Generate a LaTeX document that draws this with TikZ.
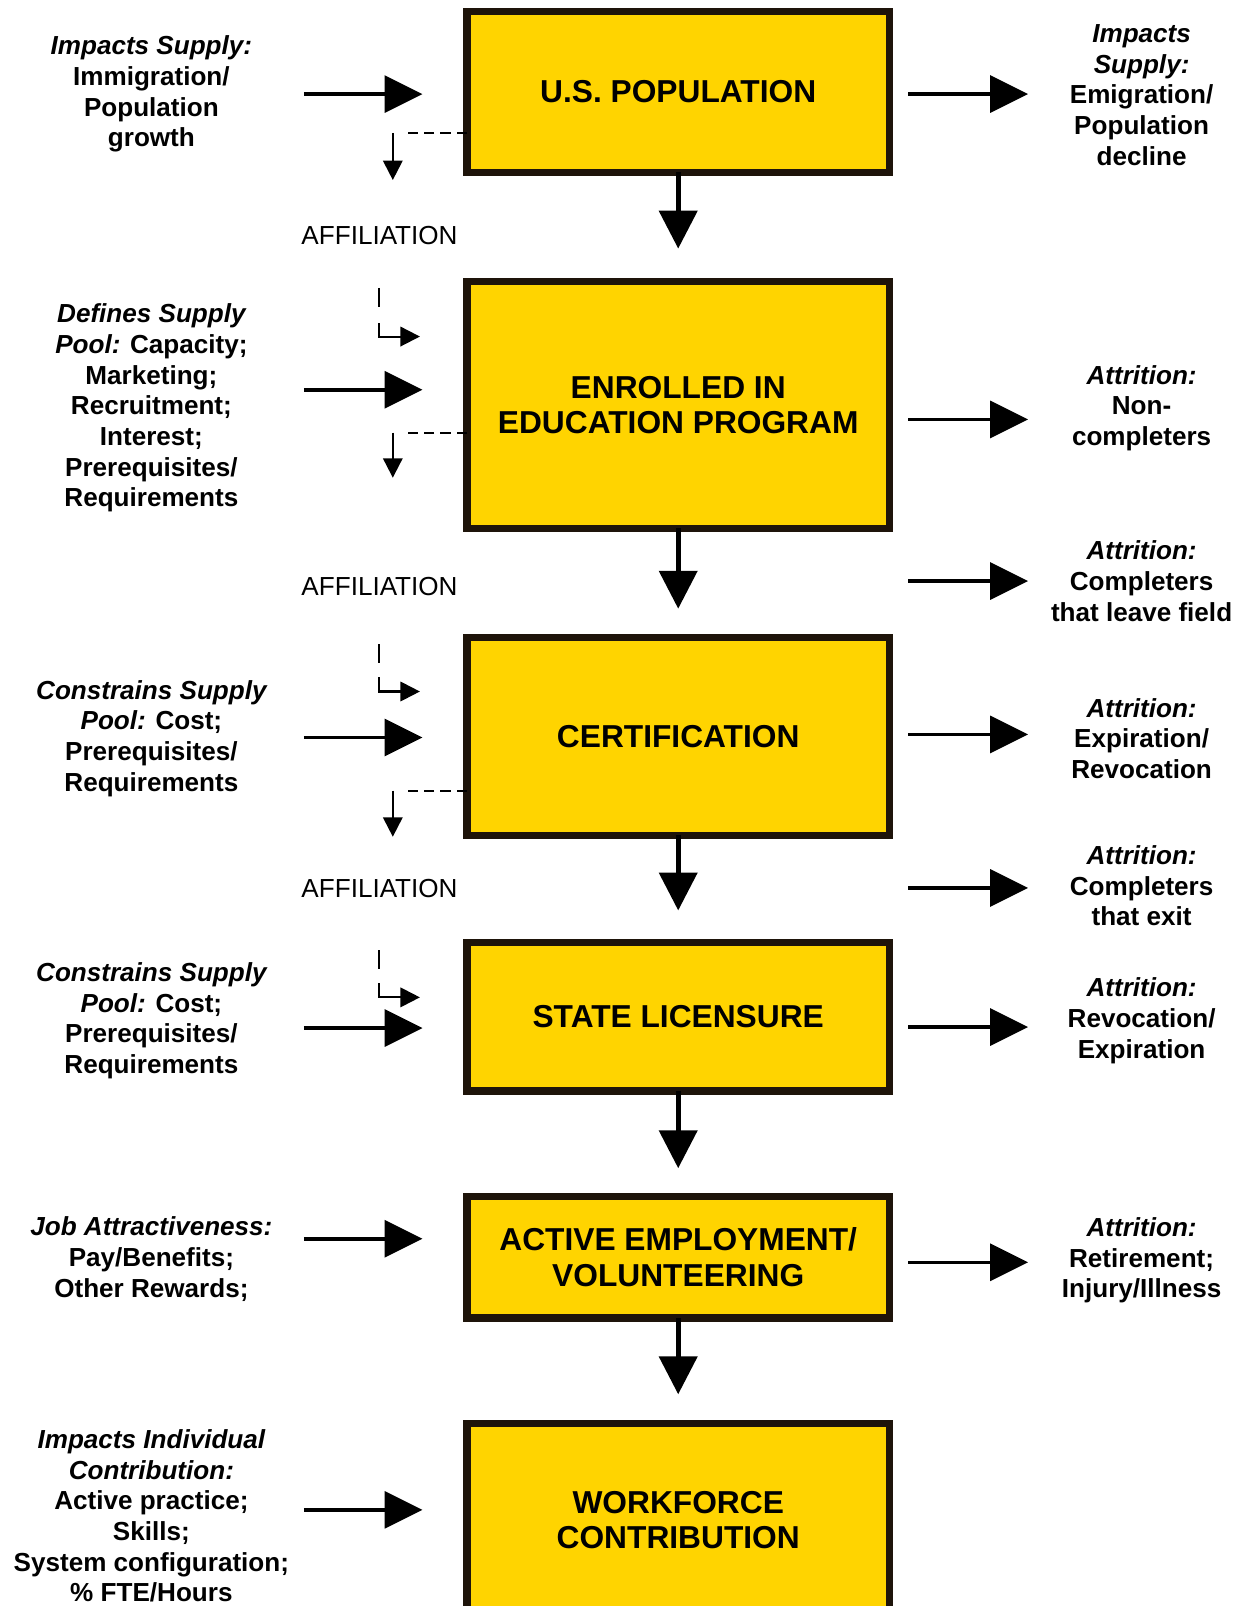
\documentclass[tikz,border=0pt]{standalone}
\usepackage{fontspec}
\setmainfont{Liberation Sans}
\usetikzlibrary{arrows.meta}
\definecolor{boxfill}{RGB}{255,212,0}
\definecolor{boxline}{RGB}{30,20,10}
\begin{document}
\begin{tikzpicture}[x=1pt,y=-1pt,
  stagebox/.style={draw=boxline, line width=7pt, fill=boxfill, minimum width=413pt,
    inner sep=0pt, outer sep=0pt, align=center, font=\fontsize{31}{35}\selectfont\bfseries},
  sidetext/.style={align=center, font=\fontsize{25.5}{30}\selectfont\bfseries, inner sep=0pt},
  afftext/.style={font=\fontsize{25.5}{30}\selectfont, inner sep=0pt},
  bigarrow/.style={line width=3.5pt, -{Triangle[length=37pt,width=36pt]}},
  flowarrow/.style={line width=4.5pt, -{Triangle[length=37pt,width=37pt]}},
  smallarrow/.style={line width=2pt, -{Triangle[length=19pt,width=19pt]}},
  dashline/.style={line width=2pt, dash pattern=on 10pt off 6pt},
  plainline/.style={line width=2pt},
]
\useasboundingbox (0,0) rectangle (1216,1570);
\clip (0,0) rectangle (1216,1570);

% stage boxes
\node[stagebox, minimum height=157pt] (b1) at (663,90) {U.S. POPULATION};
\node[stagebox, minimum height=241pt] (b2) at (663,396) {ENROLLED IN\\EDUCATION PROGRAM};
\node[stagebox, minimum height=193pt] (b3) at (663,720) {CERTIFICATION};
\node[stagebox, minimum height=145pt] (b4) at (663,994) {STATE LICENSURE};
\node[stagebox, minimum height=119pt] (b5) at (663,1229) {ACTIVE EMPLOYMENT/\\VOLUNTEERING};
\node[stagebox, minimum height=189pt] (b6) at (663,1486) {WORKFORCE\\CONTRIBUTION};

% flow arrows
\draw[flowarrow] (b1.south) -- ([yshift=32.5pt]b2.north);
\draw[flowarrow] (b2.south) -- ([yshift=28.5pt]b3.north);
\draw[flowarrow] (b3.south) -- ([yshift=31.5pt]b4.north);
\draw[flowarrow] (b4.south) -- ([yshift=27.5pt]b5.north);
\draw[flowarrow] (b5.south) -- ([yshift=28.5pt]b6.north);

% affiliation labels
\node[afftext] (af1) at (371,230) {AFFILIATION};
\node[afftext] (af2) at (371,573) {AFFILIATION};
\node[afftext] (af3) at (371,869) {AFFILIATION};

% left texts
\node[sidetext] (l1) at (148,92) {{\itshape Impacts Supply:}\\Immigration/\\Population\\growth};
\node[sidetext] (l2) at (148,399) {{\itshape Defines Supply}\\{\itshape Pool:} Capacity;\\Marketing;\\Recruitment;\\Interest;\\Prerequisites/\\Requirements};
\node[sidetext] (l3) at (148,722) {{\itshape Constrains Supply}\\{\itshape Pool:} Cost;\\Prerequisites/\\Requirements};
\node[sidetext] (l4) at (148,998) {{\itshape Constrains Supply}\\{\itshape Pool:} Cost;\\Prerequisites/\\Requirements};
\node[sidetext] (l5) at (148,1231) {{\itshape Job Attractiveness:}\\Pay/Benefits;\\Other Rewards;};
\node[sidetext] (l6) at (148,1482) {{\itshape Impacts Individual}\\{\itshape Contribution:}\\Active practice;\\Skills;\\System configuration;\\\% FTE/Hours};

% right texts
\node[sidetext] (r1) at (1116,93) {{\itshape Impacts}\\{\itshape Supply:}\\Emigration/\\Population\\decline};
\node[sidetext] (r2) at (1116,399) {{\itshape Attrition:}\\Non-\\completers};
\node[sidetext] (r3) at (1116,568) {{\itshape Attrition:}\\Completers\\that leave field};
\node[sidetext] (r4) at (1116,722) {{\itshape Attrition:}\\Expiration/\\Revocation};
\node[sidetext] (r5) at (1116,866) {{\itshape Attrition:}\\Completers\\that exit};
\node[sidetext] (r6) at (1116,998) {{\itshape Attrition:}\\Revocation/\\Expiration};
\node[sidetext] (r7) at (1116,1232) {{\itshape Attrition:}\\Retirement;\\Injury/Illness};

% left input arrows
\coordinate (la1) at (297,92);
\coordinate (la2) at (297,381);
\coordinate (la3) at (297,721);
\coordinate (la4) at (297,1005);
\coordinate (la5) at (297,1211);
\coordinate (la6) at (297,1476);
\draw[bigarrow, shorten >=43.5pt] (la1) -- (la1 -| b1.west);
\draw[bigarrow, shorten >=43.5pt] (la2) -- (la2 -| b2.west);
\draw[bigarrow, shorten >=43.5pt] (la3) -- (la3 -| b3.west);
\draw[bigarrow, shorten >=43.5pt] (la4) -- (la4 -| b4.west);
\draw[bigarrow, shorten >=43.5pt] (la5) -- (la5 -| b5.west);
\draw[bigarrow, shorten >=43.5pt] (la6) -- (la6 -| b6.west);

% right output arrows
\coordinate (ra1) at (1005,92);
\coordinate (ra2) at (1005,410);
\coordinate (ra4) at (1005,718);
\coordinate (ra6) at (1005,1004);
\coordinate (ra7) at (1005,1234);
\draw[bigarrow, shorten <=18.5pt] (ra1 -| b1.east) -- (ra1);
\draw[bigarrow, shorten <=18.5pt] (ra2 -| b2.east) -- (ra2);
\draw[bigarrow, shorten <=18.5pt] (ra4 -| b3.east) -- (ra4);
\draw[bigarrow, shorten <=18.5pt] (ra6 -| b4.east) -- (ra6);
\draw[bigarrow, shorten <=18.5pt] (ra7 -| b5.east) -- (ra7);
\coordinate (rs3) at (888,568);
\coordinate (ra3) at (1005,568);
\coordinate (rs5) at (888,868);
\coordinate (ra5) at (1005,868);
\draw[bigarrow] (rs3) -- (ra3);
\draw[bigarrow] (rs5) -- (ra5);

% dashed affiliation outflows
\coordinate (d1) at (384,130);  \coordinate (d1e) at (384,176);
\coordinate (d2) at (384,423);  \coordinate (d2e) at (384,467);
\coordinate (d3) at (384,773);  \coordinate (d3e) at (384,818);
\draw[dashline] (d1 -| b1.west) -- ([xshift=11pt]d1);
\draw[smallarrow] (d1) -- (d1e);
\draw[dashline] (d2 -| b2.west) -- ([xshift=11pt]d2);
\draw[smallarrow] (d2) -- (d2e);
\draw[dashline] (d3 -| b3.west) -- ([xshift=11pt]d3);
\draw[smallarrow] (d3) -- (d3e);

% affiliation inflows (L-shaped)
\coordinate (u2a) at (370.5,281.5); \coordinate (u2b) at (370.5,300);
\coordinate (u2c) at (370.5,316);   \coordinate (u2d) at (410.5,329);
\coordinate (u3a) at (370.5,630);   \coordinate (u3b) at (370.5,648.5);
\coordinate (u3c) at (370.5,662);   \coordinate (u3d) at (410.5,676);
\coordinate (u4a) at (370.5,929);   \coordinate (u4b) at (370.5,947.5);
\coordinate (u4c) at (370.5,961);   \coordinate (u4d) at (410.5,975);
\draw[plainline] (u2a) -- (u2b);
\draw[smallarrow] (u2c) |- (u2d);
\draw[plainline] (u3a) -- (u3b);
\draw[smallarrow] (u3c) |- (u3d);
\draw[plainline] (u4a) -- (u4b);
\draw[smallarrow] (u4c) |- (u4d);
\end{tikzpicture}
\end{document}
